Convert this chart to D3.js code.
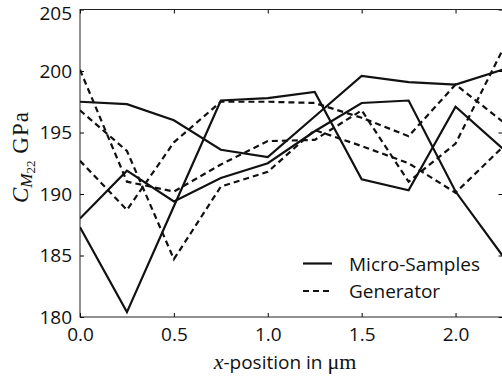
<!DOCTYPE html>
<html>
<head>
<meta charset="utf-8">
<script src="https://cdn.jsdelivr.net/npm/d3@7"></script>
<style>
  body { margin: 0; background: white; }
  svg { display: block; }
</style>
</head>
<body>
<div id="chart"></div>
<script>
// x positions of the samples (µm)
const xPos = [0, 0.25, 0.5, 0.75, 1.0, 1.25, 1.5, 1.75, 2.0, 2.25];

// Micro-Samples (solid)
const micro1 = [197.5, 197.3, 196.0, 193.6, 193.0, 196.3, 199.6, 199.1, 198.9, 200.1];
const micro2 = [188.0, 191.9, 189.4, 191.3, 192.5, 195.1, 197.4, 197.6, 190.2, 185.0];
const micro3 = [187.3, 180.4, 189.0, 197.6, 197.8, 198.3, 191.2, 190.3, 197.1, 193.7];

// Generator (dashed)
const gen1 = [200.1, 191.0, 190.2, 192.4, 194.3, 194.4, 196.8, 191.0, 194.1, 201.7];
const gen2 = [196.8, 193.5, 184.7, 190.6, 191.8, 195.2, 193.9, 192.5, 190.1, 193.8];
const gen3 = [192.7, 188.7, 194.2, 197.5, 197.5, 197.4, 196.2, 194.7, 198.9, 195.9];

const xTicks = [0, 0.5, 1.0, 1.5, 2.0];
const yTicks = [180, 185, 190, 195, 200, 205];

const legendLabels = ["Micro-Samples", "Generator"];

const width = 502, height = 381;
const plotL = 80, plotR = 502.5, plotT = 9.5, plotB = 317;
const sans = "'Open Sans', Lato, sans-serif";
const serif = "'Liberation Serif', 'DejaVu Serif', serif";

const svg = d3.select("#chart").append("svg")
    .attr("width", width)
    .attr("height", height);

const x = d3.scaleLinear().domain([0, 2.25]).range([plotL, plotR]);
const y = d3.scaleLinear().domain([180, 205]).range([plotB, plotT]);

svg.append("defs").append("clipPath").attr("id", "plot")
    .append("rect")
    .attr("x", plotL).attr("y", plotT)
    .attr("width", plotR - plotL).attr("height", plotB - plotT);

// axes with inward ticks
const fmtX = d3.format(".1f");
const tickLen = 4;

svg.append("g")
    .attr("transform", `translate(0,${plotB})`)
    .call(d3.axisBottom(x).tickValues(xTicks).tickSize(-tickLen).tickFormat(fmtX).tickPadding(11))
    .call(g => g.select(".domain").remove())
    .call(g => g.selectAll("text").attr("font-family", sans).attr("font-size", 19).attr("fill", "#111"));

svg.append("g")
    .attr("transform", `translate(0,${plotT})`)
    .call(d3.axisTop(x).tickValues(xTicks).tickSize(-tickLen).tickFormat(""))
    .call(g => g.select(".domain").remove());

svg.append("g")
    .attr("transform", `translate(${plotL},0)`)
    .call(d3.axisLeft(y).tickValues(yTicks).tickSize(-tickLen).tickPadding(8))
    .call(g => g.select(".domain").remove())
    .call(g => g.selectAll("text").attr("font-family", sans).attr("font-size", 19).attr("fill", "#111"))
    // top label sits a little lower so it stays inside the figure
    .call(g => g.selectAll(".tick").filter(d => d === 205).select("text").attr("dy", "0.55em"));

svg.append("g")
    .attr("transform", `translate(${plotR},0)`)
    .call(d3.axisRight(y).tickValues(yTicks).tickSize(-tickLen).tickFormat(""))
    .call(g => g.select(".domain").remove());

svg.append("rect")
    .attr("x", plotL).attr("y", plotT)
    .attr("width", plotR - plotL).attr("height", plotB - plotT)
    .attr("fill", "none").attr("stroke", "#222").attr("stroke-width", 1);

// series
const line = d3.line()
    .x((d, i) => x(xPos[i]))
    .y(d => y(d));

const series = [
    { values: micro1, dash: null },
    { values: micro2, dash: null },
    { values: micro3, dash: null },
    { values: gen1, dash: "6,4" },
    { values: gen2, dash: "6,4" },
    { values: gen3, dash: "6,4" }
];

svg.append("g").attr("clip-path", "url(#plot)")
    .selectAll("path")
    .data(series)
    .join("path")
    .attr("d", d => line(d.values))
    .attr("fill", "none")
    .attr("stroke", "#111")
    .attr("stroke-width", 2.2)
    .attr("stroke-dasharray", d => d.dash);

// legend
const legend = svg.append("g");
legendLabels.forEach((label, i) => {
    const ly = 263.5 + i * 27.5;
    legend.append("line")
        .attr("x1", 303).attr("x2", 332)
        .attr("y1", ly).attr("y2", ly)
        .attr("stroke", "#111").attr("stroke-width", 2.2)
        .attr("stroke-dasharray", i === 1 ? "6,4" : null);
    legend.append("text")
        .attr("x", 349).attr("y", ly + 7)
        .attr("font-family", sans).attr("font-size", 19)
        .attr("fill", "#111")
        .text(label);
});

// x label
const xl = svg.append("text")
    .attr("x", 285).attr("y", 369)
    .attr("text-anchor", "middle")
    .attr("font-size", 19)
    .attr("fill", "#111");
xl.append("tspan").attr("font-family", serif).attr("font-style", "italic").attr("font-size", 22).text("x");
xl.append("tspan").attr("font-family", sans).text("-position in ");
xl.append("tspan").attr("font-family", serif).attr("font-size", 22).text("\u03bcm");

// y label
const yl = svg.append("text")
    .attr("transform", `translate(28,203) rotate(-90)`)
    .attr("text-anchor", "start")
    .attr("font-family", serif)
    .attr("font-size", 23)
    .attr("fill", "#111");
yl.append("tspan").attr("font-style", "italic").text("C");
yl.append("tspan").attr("font-style", "italic").attr("font-size", 17).attr("dy", 4).text("M");
yl.append("tspan").attr("font-size", 13).attr("dy", 3).text("22");
yl.append("tspan").attr("dy", -7).attr("letter-spacing", 1).text(" GPa");
</script>
</body>
</html>
